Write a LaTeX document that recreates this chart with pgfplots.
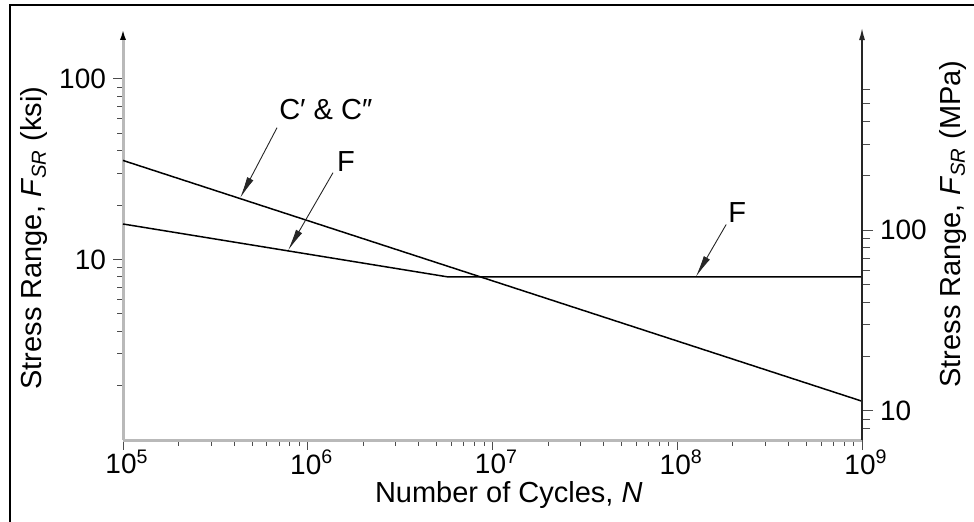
\documentclass[border=0pt]{standalone}
\usepackage{fontspec}
\setmainfont{Liberation Sans}
\usepackage{pgfplots}
\pgfplotsset{compat=1.18}
\usetikzlibrary{arrows.meta}

\newcommand{\lbl}{\fontsize{14.5}{16}\selectfont}
\newcommand{\tkl}{\fontsize{14}{16}\selectfont}

\begin{document}
\begin{tikzpicture}[x=1pt,y=1pt]
\useasboundingbox (-61.5,-40.5) rectangle (425.5,220);
% frame of the figure (only top and left edges show)
\draw[line width=1pt] (-56.5,-41) -- (-56.5,217.5) -- (426,217.5);

% ksi axis
\begin{axis}[
    at={(0,0)}, anchor=south west,
    scale only axis, width=369.5pt, height=206pt,
    xmode=log, ymode=log,
    xmin=1e5, xmax=1e9, ymin=1, ymax=191,
    axis x line=bottom, axis y line=left,
    x axis line style={-, draw=gray!55, line width=1.5pt},
    y axis line style={draw=gray!55, line width=1.5pt, -{Latex[length=6pt,width=3pt,color=black]}},
    tick align=outside,
    major tick length=5pt, minor tick length=3pt,
    every tick/.style={black!70, line width=0.5pt},
    xtick={1e5,1e6,1e7,1e8,1e9},
    xticklabels={10\textsuperscript{5},10\textsuperscript{6},10\textsuperscript{7},10\textsuperscript{8},10\textsuperscript{9}},
    minor xtick={2e5,3e5,4e5,5e5,6e5,7e5,8e5,9e5,
                 2e6,3e6,4e6,5e6,6e6,7e6,8e6,9e6,
                 2e7,3e7,4e7,5e7,6e7,7e7,8e7,9e7,
                 2e8,3e8,4e8,5e8,6e8,7e8,8e8,9e8},
    ytick={10,100}, yticklabels={10,100},
    minor ytick={2,3,4,5,6,7,8,9,20,30,40,50,60,70,80,90},
    tick label style={font=\tkl},
    xticklabel style={yshift=3.5pt, xshift=2pt},
    xlabel={Number of Cycles, \textit{N}},
    ylabel={Stress Range, \textit{F}\textsubscript{\textit{SR}} (ksi)},
    xlabel style={font=\lbl, at={(axis description cs:0.522,-0.134)}, anchor=center},
    ylabel style={font=\lbl, at={(axis description cs:-0.1204,0.49)}, anchor=center},
    clip=false,
]
% C' & C'' : F_SR = (44e8/N)^(1/3)
\addplot[black, line width=0.75pt] coordinates {(1e5,35.3) (1e9,1.64)};
% F : F_SR = (150e10/N)^(1/6), threshold 8 ksi
\addplot[black, line width=0.75pt] coordinates {(1e5,15.7) (5.72e6,8) (1e9,8)};

\draw[line width=0.45pt, black!85, -{Latex[length=11pt,width=3.5pt]}]
    (axis cs:6.82e5,53.6) -- (axis cs:4.3e5,21.8);
\draw[line width=0.45pt, black!85, -{Latex[length=11pt,width=3.5pt]}]
    (axis cs:1.37e6,30.2) -- (axis cs:7.82e5,11.2);
\draw[line width=0.45pt, black!85, -{Latex[length=11pt,width=3.5pt]}]
    (axis cs:1.84e8,15.6) -- (axis cs:1.26e8,8);
\node[font=\lbl, anchor=west, inner sep=0pt] at (axis cs:6.98e5,67.4) {C′ \& C″};
\node[font=\lbl, inner sep=0pt] at (axis cs:1.61e6,34.8) {F};
\node[font=\lbl, inner sep=0pt] at (axis cs:2.11e8,18.2) {F};
\end{axis}

% MPa axis
\begin{axis}[
    at={(0,0)}, anchor=south west,
    scale only axis, width=369.5pt, height=206pt,
    xmode=log, ymode=log,
    xmin=1e5, xmax=1e9, ymin=6.895, ymax=1317,
    axis x line=none, axis y line=right,
    y axis line style={draw=black!85, line width=0.7pt, -{Latex[length=6pt,width=3pt]}},
    tick align=outside,
    major tick length=5.5pt, minor tick length=4pt,
    every tick/.style={black!70, line width=0.5pt},
    ytick={10,100}, yticklabels={10,100},
    minor ytick={8,9,20,30,40,50,60,70,80,90,200,300,400,500,600},
    tick label style={font=\tkl},
    ylabel={Stress Range, \textit{F}\textsubscript{\textit{SR}} (MPa)},
    ylabel style={font=\lbl, at={(axis description cs:1.1231,0.524)}, anchor=center},
]
\end{axis}
\end{tikzpicture}
\end{document}
